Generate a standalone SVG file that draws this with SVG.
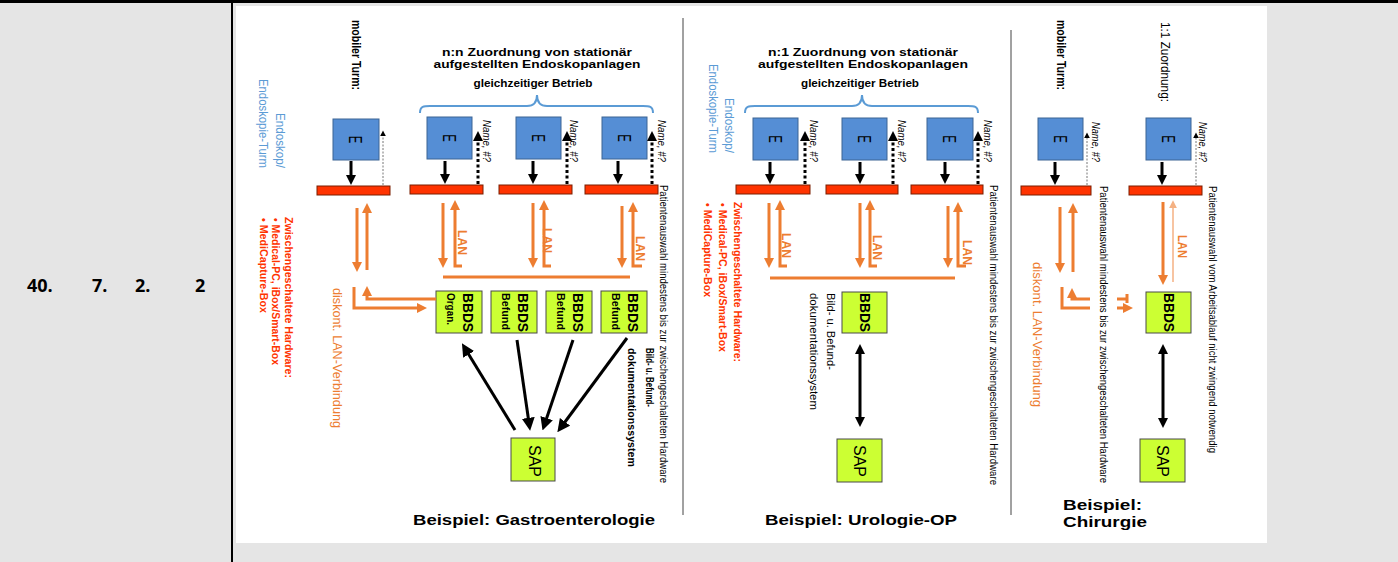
<svg xmlns="http://www.w3.org/2000/svg" width="1398" height="562" viewBox="0 0 1398 562">
<defs>
<style>
text{font-family:"Liberation Sans",Arial,sans-serif;fill:#000}
.b{font-weight:bold}
.num{font-family:"Open Sans","Liberation Sans",sans-serif;font-weight:bold;font-size:18px}
.box{fill:#558ed5;stroke:#3c6494;stroke-width:1}
.bar{fill:#ff3300;stroke:#7a1e00;stroke-width:1}
.gb{fill:#ccff33;stroke:#4a4a4a;stroke-width:1}
.ol{stroke:#ed7d31;stroke-width:3;fill:none}
.olt{stroke:#f4b183;stroke-width:1.5;fill:none}
.bl{stroke:#000;stroke-width:3;fill:none}
.dt{stroke:#000;stroke-width:3;stroke-dasharray:3 2.5;fill:none}
.th{stroke:#777;stroke-width:1;stroke-dasharray:2 1.5;fill:none}
.br{stroke:#5b9bd5;stroke-width:2;fill:none}
.sep{stroke:#444;stroke-width:1}
.e{font-size:19px}
.blue{fill:#5b9bd5;font-size:12.5px}
.red{fill:#ff3300;font-size:11.5px;font-weight:bold}
.or{fill:#ed7d31}
.nm{font-size:10px;font-style:italic}
.pa{font-size:10px}
.lan{fill:#ed7d31;font-size:12px;font-weight:bold}
.bb{font-size:14px;font-weight:bold}
.sub{font-size:11px;font-weight:bold}
.sap{font-size:16px}
.ttl{font-size:11.5px;font-weight:bold}
.gl{font-size:10px;font-weight:bold}
.bsp{font-size:14px;font-weight:bold}
</style>
<marker id="ak" viewBox="0 0 10 10" refX="4" refY="5" markerWidth="10" markerHeight="10" markerUnits="userSpaceOnUse" orient="auto-start-reverse"><path d="M0,0L10,5L0,10z" fill="#000"/></marker>
<marker id="akL" viewBox="0 0 10 10" refX="4" refY="5" markerWidth="13" markerHeight="13" markerUnits="userSpaceOnUse" orient="auto-start-reverse"><path d="M0,0L10,5L0,10z" fill="#000"/></marker>
<marker id="ao" viewBox="0 0 10 10" refX="4" refY="5" markerWidth="10" markerHeight="10" markerUnits="userSpaceOnUse" orient="auto-start-reverse"><path d="M0,0L10,5L0,10z" fill="#ed7d31"/></marker>
<marker id="aot" viewBox="0 0 10 10" refX="4" refY="5" markerWidth="8" markerHeight="8" markerUnits="userSpaceOnUse" orient="auto-start-reverse"><path d="M0,0L10,5L0,10z" fill="#f4b183"/></marker>
<marker id="at" viewBox="0 0 10 10" refX="4" refY="5" markerWidth="6" markerHeight="6" markerUnits="userSpaceOnUse" orient="auto-start-reverse"><path d="M0,0L10,5L0,10z" fill="#000"/></marker>
</defs>

<rect width="1398" height="562" fill="#e5e5e5"/>
<rect x="236" y="6" width="1031" height="537" fill="#fff"/>
<line x1="0" y1="1.5" x2="1398" y2="1.5" stroke="#000" stroke-width="3"/>
<line x1="232" y1="0" x2="232" y2="562" stroke="#000" stroke-width="2"/>

<g id="rowlabel">
<text class="num" x="27" y="292">40.</text>
<text class="num" x="92" y="292">7.</text>
<text class="num" x="135" y="292">2.</text>
<text class="num" x="195" y="292">2</text>
</g>

<g id="separators">
<line class="sep" x1="683" y1="18" x2="683" y2="515"/>
<line class="sep" x1="1011" y1="30" x2="1011" y2="515"/>
</g>

<!-- ================= Section 1: Gastroenterologie ================= -->
<g id="s1-labels">
<text class="blue" transform="translate(275.5,168) rotate(90)" text-anchor="end" textLength="55" lengthAdjust="spacingAndGlyphs">Endoskop/</text>
<text class="blue" transform="translate(259,168) rotate(90)" text-anchor="end" textLength="89" lengthAdjust="spacingAndGlyphs">Endoskopie-Turm</text>
<text class="b" font-size="12" transform="translate(351.5,20) rotate(90)" textLength="70" lengthAdjust="spacingAndGlyphs">mobiler Turm:</text>
<text class="red" transform="translate(284.5,217) rotate(90)" textLength="161" lengthAdjust="spacingAndGlyphs">Zwischengeschaltete Hardware:</text>
<text class="red" transform="translate(271.5,218) rotate(90)" textLength="147" lengthAdjust="spacingAndGlyphs">• Medical-PC, iBox/Smart-Box</text>
<text class="red" transform="translate(259.5,218) rotate(90)" textLength="95" lengthAdjust="spacingAndGlyphs">• MediCapture-Box</text>
<text class="or" font-size="13" transform="translate(333,288) rotate(90)" textLength="140" lengthAdjust="spacingAndGlyphs">diskont. LAN-Verbindung</text>
<text class="ttl" x="537" y="56" text-anchor="middle" textLength="190" lengthAdjust="spacingAndGlyphs">n:n Zuordnung von stationär</text>
<text class="ttl" x="537" y="68" text-anchor="middle" textLength="207" lengthAdjust="spacingAndGlyphs">aufgestellten Endoskopanlagen</text>
<text class="gl" x="533" y="87" text-anchor="middle" textLength="119" lengthAdjust="spacingAndGlyphs">gleichzeitiger Betrieb</text>
<text class="pa" transform="translate(660,185) rotate(90)" textLength="298" lengthAdjust="spacingAndGlyphs">Patientenauswahl mindestens bis zur zwischengeschalteten Hardware</text>
<text class="sub" transform="translate(645.7,348) rotate(90)" textLength="59" lengthAdjust="spacingAndGlyphs">Bild- u. Befund-</text>
<text class="sub" transform="translate(627.7,348) rotate(90)" textLength="119" lengthAdjust="spacingAndGlyphs">dokumentationssystem</text>
<text class="bsp" x="413" y="525" textLength="242" lengthAdjust="spacingAndGlyphs">Beispiel: Gastroenterologie</text>
<path class="br" d="M420,113 C420,106 424,106 430,106 L527,106 C533,106 537,103 537,95 C537,103 541,106 547,106 L643,106 C649,106 653,106 653,113"/>
</g>

<g id="s1-mobile-E">
<rect class="box" x="333" y="119" width="46" height="41"/>
<text class="e" transform="translate(356,139.5) rotate(90) scale(0.6,1)" x="0" y="6.8" text-anchor="middle">E</text>
</g>
<g id="s1-mobile-bar"><rect class="bar" x="317" y="186" width="73" height="9"/></g>

<g id="s1-E1"><rect class="box" x="427" y="117" width="45" height="42"/><text class="e" transform="translate(449.5,138) rotate(90) scale(0.6,1)" x="0" y="6.8" text-anchor="middle">E</text></g>
<g id="s1-E2"><rect class="box" x="516" y="117" width="45" height="42"/><text class="e" transform="translate(538.5,138) rotate(90) scale(0.6,1)" x="0" y="6.8" text-anchor="middle">E</text></g>
<g id="s1-E3"><rect class="box" x="602" y="117" width="45" height="42"/><text class="e" transform="translate(624.5,138) rotate(90) scale(0.6,1)" x="0" y="6.8" text-anchor="middle">E</text></g>
<g id="s1-bar1"><rect class="bar" x="410" y="185" width="73" height="9"/></g>
<g id="s1-bar2"><rect class="bar" x="499" y="185" width="73" height="9"/></g>
<g id="s1-bar3"><rect class="bar" x="585" y="185" width="73" height="9"/></g>

<g id="s1-BBDS1"><rect class="gb" x="436" y="291" width="46" height="42"/><text class="bb" transform="translate(462.5,293) rotate(90)" textLength="39" lengthAdjust="spacingAndGlyphs">BBDS</text><text class="sub" transform="translate(446.7,293) rotate(90)" textLength="32" lengthAdjust="spacingAndGlyphs">Organ.</text></g>
<g id="s1-BBDS2"><rect class="gb" x="491" y="291" width="46" height="42"/><text class="bb" transform="translate(517.5,293) rotate(90)" textLength="39" lengthAdjust="spacingAndGlyphs">BBDS</text><text class="sub" transform="translate(501.7,293) rotate(90)" textLength="37" lengthAdjust="spacingAndGlyphs">Befund</text></g>
<g id="s1-BBDS3"><rect class="gb" x="546" y="291" width="46" height="42"/><text class="bb" transform="translate(572.5,293) rotate(90)" textLength="39" lengthAdjust="spacingAndGlyphs">BBDS</text><text class="sub" transform="translate(556.7,293) rotate(90)" textLength="37" lengthAdjust="spacingAndGlyphs">Befund</text></g>
<g id="s1-BBDS4"><rect class="gb" x="601" y="291" width="46" height="42"/><text class="bb" transform="translate(627.5,293) rotate(90)" textLength="39" lengthAdjust="spacingAndGlyphs">BBDS</text><text class="sub" transform="translate(611.7,293) rotate(90)" textLength="37" lengthAdjust="spacingAndGlyphs">Befund</text></g>
<g id="s1-SAP"><rect class="gb" x="511" y="438" width="44" height="43"/><text class="sap" transform="translate(529,445) rotate(90)" textLength="32" lengthAdjust="spacingAndGlyphs">SAP</text></g>

<g id="s1-name-labels">
<text class="nm" transform="translate(483,120) rotate(90)" textLength="42" lengthAdjust="spacingAndGlyphs">Name, #?</text>
<text class="nm" transform="translate(570,120) rotate(90)" textLength="42" lengthAdjust="spacingAndGlyphs">Name, #?</text>
<text class="nm" transform="translate(658,120) rotate(90)" textLength="42" lengthAdjust="spacingAndGlyphs">Name, #?</text>
<text class="lan" transform="translate(457.7,230) rotate(90)" textLength="25" lengthAdjust="spacingAndGlyphs">LAN</text>
<text class="lan" transform="translate(542.7,228) rotate(90)" textLength="25" lengthAdjust="spacingAndGlyphs">LAN</text>
<text class="lan" transform="translate(635.7,236) rotate(90)" textLength="25" lengthAdjust="spacingAndGlyphs">LAN</text>
</g>

<!-- ================= Section 2: Urologie ================= -->
<g id="s2-labels">
<text class="blue" transform="translate(724.5,153) rotate(90)" text-anchor="end" textLength="55" lengthAdjust="spacingAndGlyphs">Endoskop/</text>
<text class="blue" transform="translate(708.5,153) rotate(90)" text-anchor="end" textLength="89" lengthAdjust="spacingAndGlyphs">Endoskopie-Turm</text>
<text class="red" transform="translate(733.5,202) rotate(90)" textLength="160" lengthAdjust="spacingAndGlyphs">Zwischengeschaltete Hardware:</text>
<text class="red" transform="translate(718.5,203) rotate(90)" textLength="149" lengthAdjust="spacingAndGlyphs">• Medical-PC, iBox/Smart-Box</text>
<text class="red" transform="translate(703.5,203) rotate(90)" textLength="94" lengthAdjust="spacingAndGlyphs">• MediCapture-Box</text>
<text class="ttl" x="863" y="56" text-anchor="middle" textLength="190" lengthAdjust="spacingAndGlyphs">n:1 Zuordnung von stationär</text>
<text class="ttl" x="863" y="68" text-anchor="middle" textLength="210" lengthAdjust="spacingAndGlyphs">aufgestellten Endoskopanlagen</text>
<text class="gl" x="860" y="87" text-anchor="middle" textLength="118" lengthAdjust="spacingAndGlyphs">gleichzeitiger Betrieb</text>
<path class="br" d="M745,113 C745,106 749,106 755,106 L852,106 C858,106 862,103 862,95 C862,103 866,106 872,106 L968,106 C974,106 978,106 978,113"/>
<text class="pa" transform="translate(990,185) rotate(90)" textLength="300" lengthAdjust="spacingAndGlyphs">Patientenauswahl mindestens bis zur zwischengeschalteten Hardware</text>
<text font-size="11" transform="translate(826.7,293) rotate(90)" textLength="77" lengthAdjust="spacingAndGlyphs">Bild- u. Befund-</text>
<text font-size="11" transform="translate(809.7,293) rotate(90)" textLength="117" lengthAdjust="spacingAndGlyphs">dokumentationssystem</text>
<text class="bsp" x="765" y="525" textLength="192" lengthAdjust="spacingAndGlyphs">Beispiel: Urologie-OP</text>
<text class="nm" transform="translate(809.5,120) rotate(90)" textLength="42" lengthAdjust="spacingAndGlyphs">Name, #?</text>
<text class="nm" transform="translate(898,120) rotate(90)" textLength="42" lengthAdjust="spacingAndGlyphs">Name, #?</text>
<text class="nm" transform="translate(984,120) rotate(90)" textLength="42" lengthAdjust="spacingAndGlyphs">Name, #?</text>
<text class="lan" transform="translate(781.7,233) rotate(90)" textLength="25" lengthAdjust="spacingAndGlyphs">LAN</text>
<text class="lan" transform="translate(872.7,235) rotate(90)" textLength="25" lengthAdjust="spacingAndGlyphs">LAN</text>
<text class="lan" transform="translate(962.7,240) rotate(90)" textLength="25" lengthAdjust="spacingAndGlyphs">LAN</text>
</g>
<g id="s2-E1"><rect class="box" x="753" y="118" width="45" height="42"/><text class="e" transform="translate(775.5,139) rotate(90) scale(0.6,1)" x="0" y="6.8" text-anchor="middle">E</text></g>
<g id="s2-E2"><rect class="box" x="842" y="118" width="45" height="42"/><text class="e" transform="translate(864.5,139) rotate(90) scale(0.6,1)" x="0" y="6.8" text-anchor="middle">E</text></g>
<g id="s2-E3"><rect class="box" x="927" y="118" width="46" height="42"/><text class="e" transform="translate(950,139) rotate(90) scale(0.6,1)" x="0" y="6.8" text-anchor="middle">E</text></g>
<g id="s2-bar1"><rect class="bar" x="736" y="185" width="74" height="9"/></g>
<g id="s2-bar2"><rect class="bar" x="826" y="185" width="72" height="9"/></g>
<g id="s2-bar3"><rect class="bar" x="911" y="185" width="72" height="9"/></g>
<g id="s2-BBDS"><rect class="gb" x="842" y="292" width="45" height="41"/><text class="bb" transform="translate(860,293) rotate(90)" textLength="39" lengthAdjust="spacingAndGlyphs">BBDS</text></g>
<g id="s2-SAP"><rect class="gb" x="837" y="439" width="45" height="43"/><text class="sap" transform="translate(854.2,445) rotate(90)" textLength="32" lengthAdjust="spacingAndGlyphs">SAP</text></g>

<!-- ================= Section 3: Chirurgie ================= -->
<g id="s3-labels">
<text class="b" font-size="12" transform="translate(1056.5,20) rotate(90)" textLength="70" lengthAdjust="spacingAndGlyphs">mobiler Turm:</text>
<text font-size="12" transform="translate(1161,22) rotate(90)" textLength="80" lengthAdjust="spacingAndGlyphs">1:1 Zuordnung:</text>
<text class="nm" transform="translate(1092,122) rotate(90)" textLength="40" lengthAdjust="spacingAndGlyphs">Name, #?</text>
<text class="nm" transform="translate(1199,122) rotate(90)" textLength="40" lengthAdjust="spacingAndGlyphs">Name, #?</text>
<text class="pa" transform="translate(1100,186) rotate(90)" textLength="297" lengthAdjust="spacingAndGlyphs">Patientenauswahl mindestens bis zur zwischengeschalteten Hardware</text>
<text class="pa" transform="translate(1209,186) rotate(90)" textLength="267" lengthAdjust="spacingAndGlyphs">Patientenauswahl vom Arbeitsablauf nicht zwingend notwendig</text>
<text class="lan" transform="translate(1177.7,235) rotate(90)" textLength="23" lengthAdjust="spacingAndGlyphs">LAN</text>
<text class="or" font-size="13" transform="translate(1033,262) rotate(90)" textLength="145" lengthAdjust="spacingAndGlyphs">diskont. LAN-Verbindung</text>
<text class="bsp" x="1063" y="510" textLength="79" lengthAdjust="spacingAndGlyphs">Beispiel:</text>
<text class="bsp" x="1063" y="527" textLength="84" lengthAdjust="spacingAndGlyphs">Chirurgie</text>
</g>
<g id="s3-mobile-E"><rect class="box" x="1038" y="118" width="45" height="42"/><text class="e" transform="translate(1060.5,139) rotate(90) scale(0.6,1)" x="0" y="6.8" text-anchor="middle">E</text></g>
<g id="s3-E"><rect class="box" x="1146" y="118" width="45" height="42"/><text class="e" transform="translate(1168.5,139) rotate(90) scale(0.6,1)" x="0" y="6.8" text-anchor="middle">E</text></g>
<g id="s3-bar1"><rect class="bar" x="1021" y="186" width="70" height="9"/></g>
<g id="s3-bar2"><rect class="bar" x="1129" y="186" width="73" height="9"/></g>
<g id="s3-BBDS"><rect class="gb" x="1146" y="292" width="45" height="41"/><text class="bb" transform="translate(1163.5,293) rotate(90)" textLength="39" lengthAdjust="spacingAndGlyphs">BBDS</text></g>
<g id="s3-SAP"><rect class="gb" x="1140" y="439" width="45" height="43"/><text class="sap" transform="translate(1157,445) rotate(90)" textLength="32" lengthAdjust="spacingAndGlyphs">SAP</text></g>

<!-- ================= Connectors ================= -->
<g id="connectors">
<line class="bl" x1="351" y1="161" x2="351" y2="179" marker-end="url(#ak)"/>
<line class="bl" x1="445" y1="161" x2="445" y2="178" marker-end="url(#ak)"/>
<line class="bl" x1="533" y1="161" x2="533" y2="178" marker-end="url(#ak)"/>
<line class="bl" x1="618" y1="161" x2="618" y2="178" marker-end="url(#ak)"/>
<line class="bl" x1="770" y1="162" x2="770" y2="178" marker-end="url(#ak)"/>
<line class="bl" x1="860" y1="162" x2="860" y2="178" marker-end="url(#ak)"/>
<line class="bl" x1="945" y1="162" x2="945" y2="178" marker-end="url(#ak)"/>
<line class="bl" x1="1055" y1="162" x2="1055" y2="179" marker-end="url(#ak)"/>
<line class="bl" x1="1162" y1="162" x2="1162" y2="179" marker-end="url(#ak)"/>
<line class="dt" x1="478" y1="184" x2="478" y2="137" marker-end="url(#ak)"/>
<line class="dt" x1="567" y1="184" x2="567" y2="137" marker-end="url(#ak)"/>
<line class="dt" x1="652" y1="184" x2="652" y2="137" marker-end="url(#ak)"/>
<line class="dt" x1="805" y1="184" x2="805" y2="137" marker-end="url(#ak)"/>
<line class="dt" x1="893" y1="184" x2="893" y2="137" marker-end="url(#ak)"/>
<line class="dt" x1="978" y1="184" x2="978" y2="137" marker-end="url(#ak)"/>
<line class="th" x1="383" y1="185" x2="383" y2="134" marker-end="url(#at)"/>
<line class="th" x1="1087" y1="185" x2="1087" y2="136" marker-end="url(#at)"/>
<line class="th" x1="1196" y1="185" x2="1196" y2="136" marker-end="url(#at)"/>
<line class="ol" x1="443" y1="203" x2="443" y2="262" marker-end="url(#ao)"/>
<path class="ol" d="M462,266 H455 V206" marker-end="url(#ao)"/>
<line class="ol" x1="533" y1="203" x2="533" y2="262" marker-end="url(#ao)"/>
<path class="ol" d="M551,266 H544 V206" marker-end="url(#ao)"/>
<line class="ol" x1="622" y1="206" x2="622" y2="262" marker-end="url(#ao)"/>
<path class="ol" d="M642,266 H633 V208" marker-end="url(#ao)"/>
<line class="ol" x1="443" y1="277" x2="630" y2="277"/>
<line class="ol" x1="357" y1="208" x2="357" y2="266" marker-end="url(#ao)"/>
<line class="ol" x1="367" y1="270" x2="367" y2="209" marker-end="url(#ao)"/>
<path class="ol" d="M354,287 V308 H421" marker-end="url(#ao)"/>
<path class="ol" d="M436,299 H367 V292" marker-end="url(#ao)"/>
<line class="bl" x1="515" y1="430" x2="466" y2="350" marker-end="url(#akL)"/>
<line class="bl" x1="517" y1="340" x2="529" y2="423" marker-end="url(#akL)"/>
<line class="bl" x1="573" y1="340" x2="545" y2="423" marker-end="url(#akL)"/>
<line class="bl" x1="627" y1="338" x2="562" y2="426" marker-end="url(#akL)"/>
<line class="ol" x1="769" y1="203" x2="769" y2="262" marker-end="url(#ao)"/>
<path class="ol" d="M787,266 H780 V206" marker-end="url(#ao)"/>
<line class="ol" x1="860" y1="203" x2="860" y2="262" marker-end="url(#ao)"/>
<path class="ol" d="M877,266 H870 V206" marker-end="url(#ao)"/>
<line class="ol" x1="948" y1="206" x2="948" y2="262" marker-end="url(#ao)"/>
<path class="ol" d="M966,266 H958 V208" marker-end="url(#ao)"/>
<line class="ol" x1="770" y1="278" x2="955" y2="278"/>
<line class="bl" x1="860" y1="350" x2="860" y2="421" marker-start="url(#ak)" marker-end="url(#ak)"/>
<line class="ol" x1="1060" y1="207" x2="1060" y2="267" marker-end="url(#ao)"/>
<line class="ol" x1="1073" y1="272" x2="1073" y2="209" marker-end="url(#ao)"/>
<path class="ol" d="M1062,287 V308 H1090"/>
<line class="ol" x1="1117" y1="308" x2="1127" y2="308" marker-end="url(#ao)"/>
<path class="ol" d="M1090,299 H1072 V294" marker-end="url(#ao)"/>
<line class="ol" x1="1117" y1="299" x2="1128" y2="299"/>
<line class="ol" x1="1127" y1="294" x2="1127" y2="303"/>
<line class="ol" x1="1163" y1="202" x2="1163" y2="279" marker-end="url(#ao)"/>
<line class="olt" x1="1173" y1="282" x2="1173" y2="205" marker-end="url(#aot)"/>
<line class="bl" x1="1163" y1="350" x2="1163" y2="422" marker-start="url(#ak)" marker-end="url(#ak)"/>
</g>
</svg>
